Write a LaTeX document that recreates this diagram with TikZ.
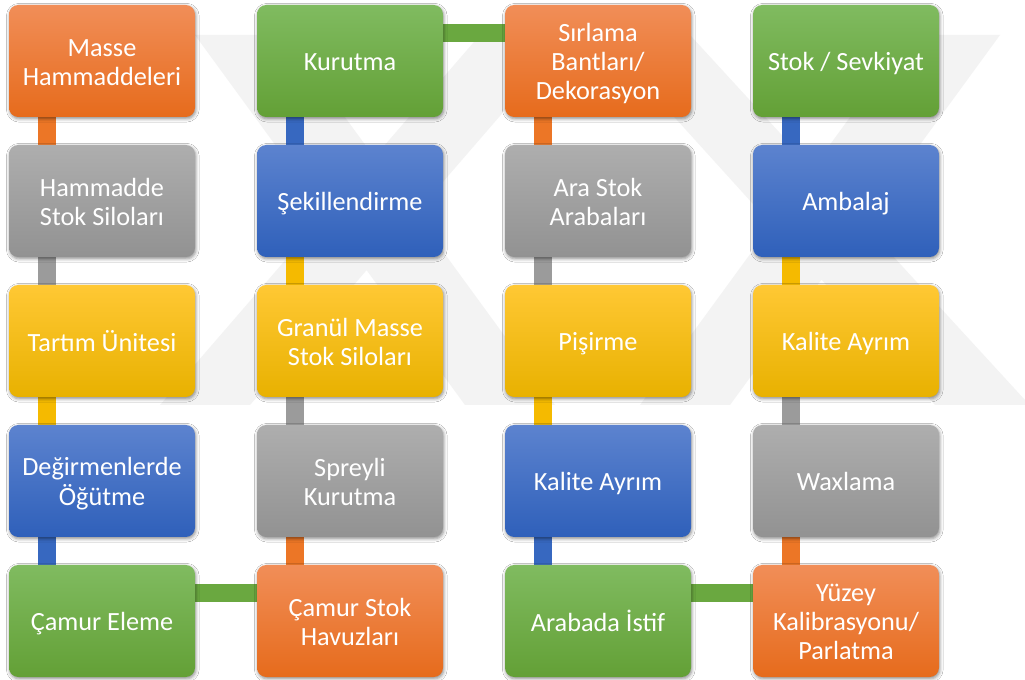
\documentclass[tikz,border=0pt]{standalone}
\usepackage{fontspec}
\setmainfont{Carlito}
\usetikzlibrary{calc,backgrounds,shadows.blur}
\definecolor{oT}{RGB}{241,142,88}
\definecolor{oM}{RGB}{240,125,46}
\definecolor{oB}{RGB}{230,107,28}
\definecolor{oC}{RGB}{236,118,38}
\definecolor{gT}{RGB}{128,187,96}
\definecolor{gM}{RGB}{112,173,71}
\definecolor{gB}{RGB}{99,160,54}
\definecolor{gC}{RGB}{106,168,64}
\definecolor{bT}{RGB}{92,131,207}
\definecolor{bM}{RGB}{68,114,196}
\definecolor{bB}{RGB}{47,96,186}
\definecolor{bC}{RGB}{55,104,192}
\definecolor{sT}{RGB}{174,174,174}
\definecolor{sM}{RGB}{165,165,165}
\definecolor{sB}{RGB}{146,146,146}
\definecolor{sC}{RGB}{155,155,155}
\definecolor{yT}{RGB}{255,200,52}
\definecolor{yM}{RGB}{255,192,0}
\definecolor{yB}{RGB}{232,177,0}
\definecolor{yC}{RGB}{245,186,0}
\definecolor{wm}{RGB}{243,243,243}
\newcommand\tx[1]{\raisebox{-3pt}[\height][\depth]{\begin{tabular}{@{}c@{}}#1\end{tabular}}}
\begin{document}
\begin{tikzpicture}[x=0.75pt,y=-0.75pt,
  box/.style={rounded corners=7pt, minimum width=139.5pt, minimum height=84pt,
    text=white, align=center, inner sep=0pt,
    font=\fontsize{19.7}{21.8}\selectfont,
    blur shadow={shadow xshift=0.6pt, shadow yshift=-1.3pt, shadow blur radius=2.5pt, shadow opacity=45}},
  obox/.style={box, top color=oT, middle color=oM, bottom color=oB},
  gbox/.style={box, top color=gT, middle color=gM, bottom color=gB},
  bbox/.style={box, top color=bT, middle color=bM, bottom color=bB},
  sbox/.style={box, top color=sT, middle color=sM, bottom color=sB},
  ybox/.style={box, top color=yT, middle color=yM, bottom color=yB},
  link/.style={line width=13.5pt}
]
\useasboundingbox (0,0) rectangle (1025,680);
% boxes: column centres 102, 350, 598, 846; row centres 61, 201, 341, 481, 621
\node[obox] (b11) at (102,61) {\tx{Masse\\Hammaddeleri}};
\node[sbox] (b21) at (102,201) {\tx{Hammadde\\Stok Siloları}};
\node[ybox] (b31) at (102,341) {\tx{Tartım Ünitesi}};
\node[bbox] (b41) at (102,481) {\tx{Değirmenlerde\\Öğütme}};
\node[gbox] (b51) at (102,621) {\tx{Çamur Eleme}};
\node[gbox] (b12) at (350,61) {\tx{Kurutma}};
\node[bbox] (b22) at (350,201) {\tx{Şekillendirme}};
\node[ybox] (b32) at (350,341) {\tx{Granül Masse\\Stok Siloları}};
\node[sbox] (b42) at (350,481) {\tx{Spreyli\\Kurutma}};
\node[obox] (b52) at (350,621) {\tx{Çamur Stok\\Havuzları}};
\node[obox] (b13) at (598,61) {\tx{Sırlama\\Bantları/\\Dekorasyon}};
\node[sbox] (b23) at (598,201) {\tx{Ara Stok\\Arabaları}};
\node[ybox] (b33) at (598,341) {\tx{Pişirme}};
\node[bbox] (b43) at (598,481) {\tx{Kalite Ayrım}};
\node[gbox] (b53) at (598,621) {\tx{Arabada İstif}};
\node[gbox] (b14) at (846,61) {\tx{Stok / Sevkiyat}};
\node[bbox] (b24) at (846,201) {\tx{Ambalaj}};
\node[ybox] (b34) at (846,341) {\tx{Kalite Ayrım}};
\node[sbox] (b44) at (846,481) {\tx{Waxlama}};
\node[obox] (b54) at (846,621) {\tx{Yüzey\\Kalibrasyonu/\\Parlatma}};
\begin{scope}[on background layer]
  \fill[white] (0,0) rectangle (1025,680);
  % faint watermark
  \fill[wm] (195,35) -- (285,35) -- (555,405) -- (465,405) -- cycle;
  \fill[wm] (160,405) -- (250,405) -- (570,35) -- (480,35) -- cycle;
  \fill[wm] (600,35) -- (690,35) -- (1025,400) -- (1025,405) -- (935,405) -- cycle;
  \fill[wm] (640,405) -- (730,405) -- (1000,35) -- (910,35) -- cycle;
  % vertical links
  \draw[link,oC] ($(b11.south west)+(38,0)$) -- ($(b21.north west)+(38,0)$);
  \draw[link,sC] ($(b21.south west)+(38,0)$) -- ($(b31.north west)+(38,0)$);
  \draw[link,yC] ($(b31.south west)+(38,0)$) -- ($(b41.north west)+(38,0)$);
  \draw[link,bC] ($(b41.south west)+(38,0)$) -- ($(b51.north west)+(38,0)$);
  \draw[link,oC] ($(b52.north west)+(38,0)$) -- ($(b42.south west)+(38,0)$);
  \draw[link,sC] ($(b42.north west)+(38,0)$) -- ($(b32.south west)+(38,0)$);
  \draw[link,yC] ($(b32.north west)+(38,0)$) -- ($(b22.south west)+(38,0)$);
  \draw[link,bC] ($(b22.north west)+(38,0)$) -- ($(b12.south west)+(38,0)$);
  \draw[link,oC] ($(b13.south west)+(38,0)$) -- ($(b23.north west)+(38,0)$);
  \draw[link,sC] ($(b23.south west)+(38,0)$) -- ($(b33.north west)+(38,0)$);
  \draw[link,yC] ($(b33.south west)+(38,0)$) -- ($(b43.north west)+(38,0)$);
  \draw[link,bC] ($(b43.south west)+(38,0)$) -- ($(b53.north west)+(38,0)$);
  \draw[link,oC] ($(b54.north west)+(38,0)$) -- ($(b44.south west)+(38,0)$);
  \draw[link,sC] ($(b44.north west)+(38,0)$) -- ($(b34.south west)+(38,0)$);
  \draw[link,yC] ($(b34.north west)+(38,0)$) -- ($(b24.south west)+(38,0)$);
  \draw[link,bC] ($(b24.north west)+(38,0)$) -- ($(b14.south west)+(38,0)$);
  % horizontal links
  \draw[link,gC] ($(b51.north east)+(0,28)$) -- ($(b52.north west)+(0,28)$);
  \draw[link,gC] ($(b12.north east)+(0,28)$) -- ($(b13.north west)+(0,28)$);
  \draw[link,gC] ($(b53.north east)+(0,28)$) -- ($(b54.north west)+(0,28)$);
\end{scope}
\end{tikzpicture}
\end{document}
